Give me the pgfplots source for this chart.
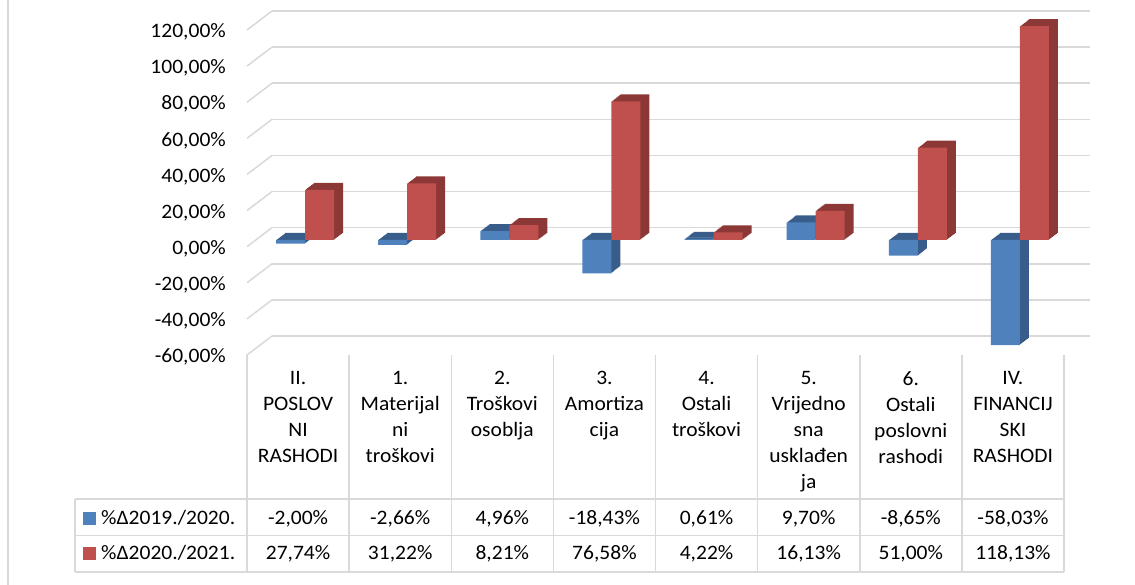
\documentclass[border=0pt]{standalone}
\usepackage{pgfplots}
\pgfplotsset{compat=1.18}
\usepackage{pgfplotstable}
\usepackage{fontspec}
\setmainfont{Carlito}[FakeStretch=1.05]
\definecolor{bfront}{HTML}{4F81BD}
\definecolor{bside}{HTML}{385D8A}
\definecolor{rfront}{HTML}{C0504D}
\definecolor{rside}{HTML}{8C3836}
\definecolor{gridc}{HTML}{D9D9D9}
\pgfplotstableread{
x a b
0 -2.00 27.74
1 -2.66 31.22
2 4.96 8.21
3 -18.43 76.58
4 0.61 4.22
5 9.70 16.13
6 -8.65 51.00
7 -58.03 118.13
}\datatable
\begin{document}
\fontsize{20.5}{26}\selectfont
\begin{tikzpicture}[x=1pt,y=1pt]
\path[use as bounding box] (0,0) rectangle (1135,585);
\draw[gridc, line width=1.5pt] (8,0) -- (8,585);
% back wall with gridlines
\begin{axis}[at={(272pt,249pt)}, anchor=south west, scale only axis,
  width=818pt, height=325pt,
  xmin=0, xmax=1, ymin=-60, ymax=120,
  xtick=\empty, ytick={-60,-40,...,120},
  yticklabels={{-60,00\%},{-40,00\%},{-20,00\%},{0,00\%},{20,00\%},{40,00\%},{60,00\%},{80,00\%},{100,00\%},{120,00\%}},
  axis line style={draw=none}, major tick length=0pt,
  ymajorgrids, grid style={gridc, line width=1.5pt},
  yticklabel style={anchor=east, inner sep=0pt, xshift=-46pt, yshift=-21pt},
  clip=false]
\addplot[draw=none] coordinates {(0,0)};
\pgfplotsinvokeforeach{-60,-40,...,120}{
  \draw[gridc, line width=1.5pt] ([xshift=-25pt,yshift=-19pt]axis cs:0,#1) -- (axis cs:0,#1);
}
\end{axis}
% bars
\begin{axis}[at={(254pt,236.4pt)}, anchor=south west, scale only axis,
  width=817pt, height=325.8pt,
  xmin=-0.5, xmax=7.5, ymin=-60, ymax=120,
  hide axis, clip=false, ybar, bar width=29pt]
\pgfplotsinvokeforeach{9,8,...,1}{
  \addplot[fill=bside, draw=none, bar shift=-14.5pt, xshift=#1pt, yshift={#1*0.7778pt}] table[x=x,y=a]{\datatable};
}
\addplot[fill=bfront, draw=none, bar shift=-14.5pt] table[x=x,y=a]{\datatable};
\pgfplotsinvokeforeach{9,8,...,1}{
  \addplot[fill=rside, draw=none, bar shift=14.5pt, xshift=#1pt, yshift={#1*0.7778pt}] table[x=x,y=b]{\datatable};
}
\addplot[fill=rfront, draw=none, bar shift=14.5pt] table[x=x,y=b]{\datatable};
\end{axis}
% data table
\foreach \k in {0,...,8}{
  \draw[gridc, line width=1.5pt] ({247+102.125*\k},230) -- ({247+102.125*\k},13);
}
\draw[gridc, line width=1.5pt] (75,86) -- (75,13);
\foreach \yy in {86,49.5,13}{
  \draw[gridc, line width=1.5pt] (75,\yy) -- (1064,\yy);
}
\foreach \i/\lab in {0/{II.\\POSLOV\\NI\\RASHODI},1/{1.\\Materijal\\ni\\troškovi},2/{2.\\Troškovi\\osoblja},3/{3.\\Amortiza\\cija},4/{4.\\Ostali\\troškovi},5/{5.\\Vrijedno\\sna\\usklađen\\ja},6/{6.\\Ostali\\poslovni\\rashodi},7/{IV.\\FINANCIJ\\SKI\\RASHODI}}{
  \node[anchor=north, align=center, inner sep=0pt] at ({247+102.125*(\i+0.5)},213.5) {\lab};
}
\foreach \i/\va/\vb in {0/{-2,00\%}/{27,74\%},1/{-2,66\%}/{31,22\%},2/{4,96\%}/{8,21\%},3/{-18,43\%}/{76,58\%},4/{0,61\%}/{4,22\%},5/{9,70\%}/{16,13\%},6/{-8,65\%}/{51,00\%},7/{-58,03\%}/{118,13\%}}{
  \node[anchor=base, inner sep=0pt] at ({247+102.125*(\i+0.5)},60) {\va};
  \node[anchor=base, inner sep=0pt] at ({247+102.125*(\i+0.5)},25) {\vb};
}
\node[anchor=base west, inner sep=0pt] at (83,60) {\textcolor{bfront}{\rule{13pt}{13pt}}\hspace{5pt}\%Δ2019./2020.};
\node[anchor=base west, inner sep=0pt] at (83,25) {\textcolor{rfront}{\rule{13pt}{13pt}}\hspace{5pt}\%Δ2020./2021.};
\end{tikzpicture}
\end{document}
